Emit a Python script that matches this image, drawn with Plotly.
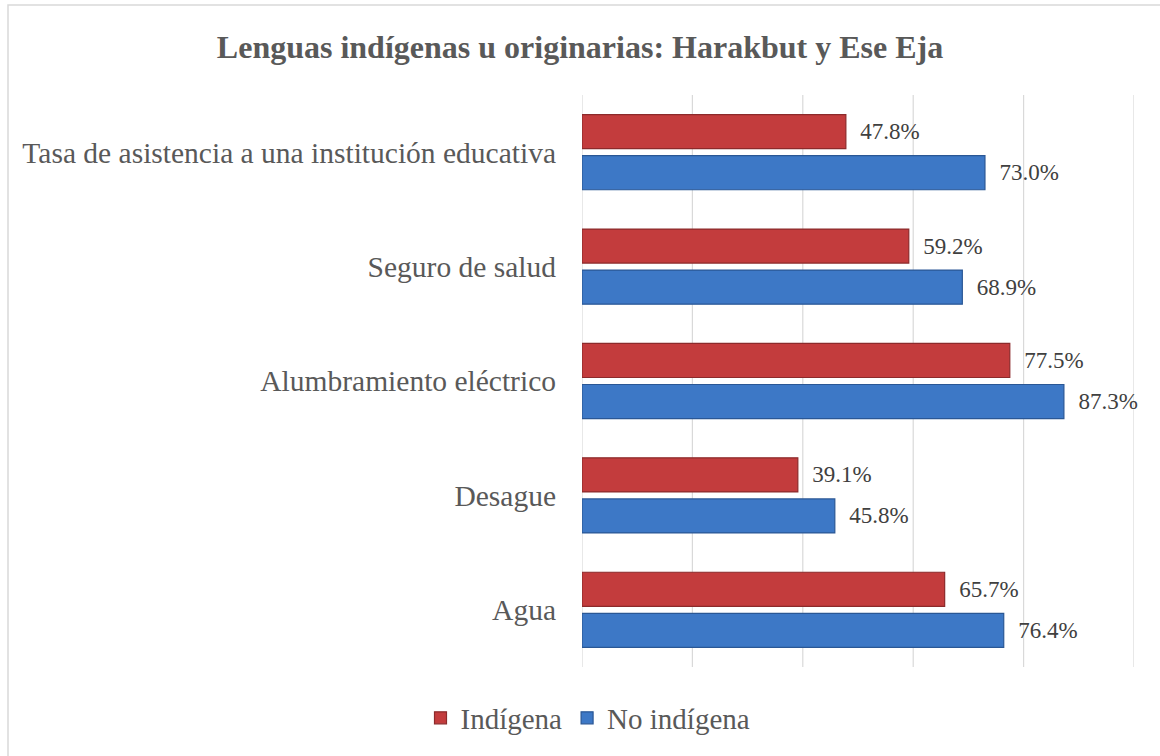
import plotly.graph_objects as go

categories = ["Agua", "Desague", "Alumbramiento eléctrico", "Seguro de salud",
              "Tasa de asistencia a una institución educativa"]
indigena = [65.7, 39.1, 77.5, 59.2, 47.8]
no_indigena = [76.4, 45.8, 87.3, 68.9, 73.0]
series_names = ["Indígena", "No indígena"]
x_ticks = [0, 20, 40, 60, 80, 100]

W, H = 1160, 756
L, R, T, B = 582, 26, 95, 89
pw, ph = W - L - R, H - T - B

font_fam = "Liberation Serif, Times New Roman, serif"
grey = "#595959"
pad = "\u00a0\u00a0"

fig = go.Figure()
fig.add_trace(go.Bar(
    y=categories, x=no_indigena, name=series_names[1], orientation="h",
    marker=dict(color="#3D78C6", line=dict(color="#2A5795", width=1.2)),
    text=[f"{pad}{v:.1f}%" for v in no_indigena], textposition="outside",
    textfont=dict(size=23, color="#404040", family=font_fam), cliponaxis=False,
))
fig.add_trace(go.Bar(
    y=categories, x=indigena, name=series_names[0], orientation="h",
    marker=dict(color="#C33C3D", line=dict(color="#8C2A2B", width=1.2)),
    text=[f"{pad}{v:.1f}%" for v in indigena], textposition="outside",
    textfont=dict(size=23, color="#404040", family=font_fam), cliponaxis=False,
))

# vertical gridlines at each tick (including the 0 and 100 edges)
for t in x_ticks:
    fig.add_shape(type="line", xref="x", yref="paper", x0=t, x1=t, y0=0, y1=1,
                  line=dict(color="#D9D9D9", width=1.2), layer="below")

# outer frame (left/top visible)
fig.add_shape(type="rect", xref="paper", yref="paper",
              x0=(8 - L) / pw, x1=(1175 - L) / pw,
              y0=(H - B - 775) / ph, y1=(H - B - 5) / ph,
              line=dict(color="#D9D9D9", width=1.5), fillcolor="rgba(0,0,0,0)", layer="below")

fig.update_layout(
    width=W, height=H,
    margin=dict(l=L, r=R, t=T, b=B),
    paper_bgcolor="white", plot_bgcolor="white",
    barmode="group", bargap=0.283, bargroupgap=0.17,
    title=dict(text="<b>Lenguas indígenas u originarias: Harakbut y Ese Eja</b>",
               x=580 / W, xref="container", xanchor="center", y=1 - 47 / H, yanchor="middle",
               font=dict(size=32, color=grey, family=font_fam)),
    xaxis=dict(range=[0, 100], tickvals=x_ticks, showticklabels=False,
               showgrid=False, zeroline=False, showline=False, fixedrange=True),
    yaxis=dict(categoryorder="array", categoryarray=categories,
               tickfont=dict(size=29.5, color=grey, family=font_fam),
               ticks="", ticklabelstandoff=25, showline=False, showgrid=False, fixedrange=True),
    legend=dict(orientation="h", x=588 / W, xref="container", xanchor="center",
                y=(H - 718) / H, yref="container", yanchor="middle",
                traceorder="reversed",
                font=dict(size=29, color=grey, family=font_fam),
                itemwidth=30),
    hovermode=False,
    showlegend=True,
)

fig.write_html("out.html", config={"displayModeBar": False},
               post_script="document.body.style.margin='0';document.body.style.overflow='hidden';")
